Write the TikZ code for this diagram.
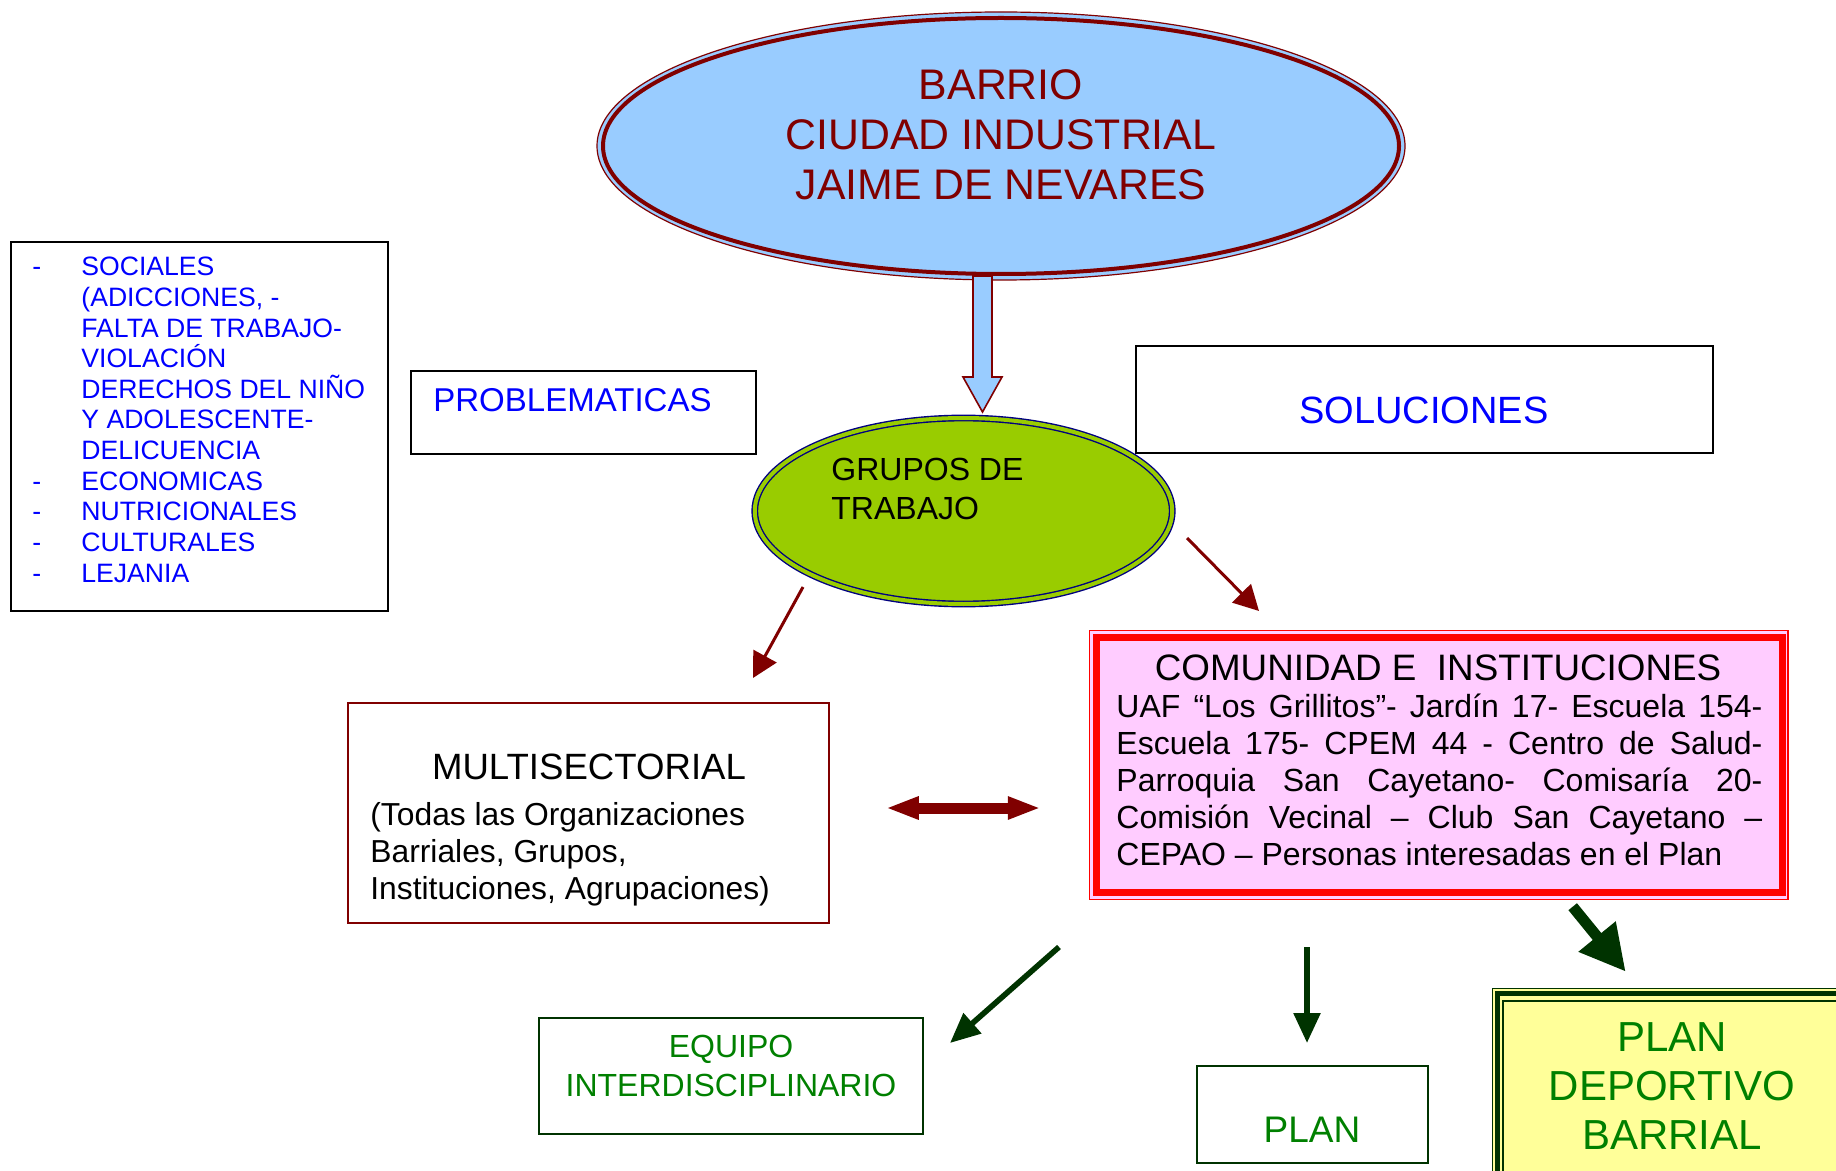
\documentclass[tikz,border=0pt]{standalone}
\usepackage{fontspec}
\setmainfont{Liberation Sans}
\usepackage{tikz}
\usetikzlibrary{shapes.geometric}
\usetikzlibrary{arrows.meta}
\usetikzlibrary{calc}

\definecolor{darkred}{HTML}{800000}
\definecolor{skyblue}{HTML}{99CCFF}
\definecolor{limegreen}{HTML}{99CC00}
\definecolor{navyblue}{HTML}{000080}
\definecolor{pinkfill}{HTML}{FFCCFF}
\definecolor{paleyellow}{HTML}{FFFF99}
\definecolor{darkgreen}{HTML}{003300}
\definecolor{textgreen}{HTML}{008000}
\definecolor{textblue}{HTML}{0000FF}

\tikzset{
  plainbox/.style={draw, rectangle, inner sep=0pt, line width=0.75pt},
  plaintext/.style={inner sep=0pt},
  listtext/.style={inner sep=0pt, anchor=base west, textblue, font=\fontsize{13.3}{15.3}\selectfont},
  redarrow/.style={darkred, line width=1.5pt, -{Triangle[length=12.5pt,width=13pt]}},
  greenarrow/.style={darkgreen, line width=2.8pt, -{Triangle[length=15pt,width=13pt]}},
}

\begin{document}
\begin{tikzpicture}[x=0.5pt, y=-0.5pt]
    \useasboundingbox (0,0) rectangle (1836,1171);
    \clip (0,0) rectangle (1836,1171);

%barrio
    \node[ellipse, draw=darkred, line width=0.6pt, fill=skyblue, minimum width=404pt, minimum height=134pt] (barrio) at (1001,146) {};
    \draw[darkred, line width=2pt] (barrio.center) ellipse [x radius=199pt, y radius=64pt];
    \node[plaintext, darkred, align=center, font=\fontsize{21.4}{25}\selectfont, anchor=base] (barriotxt) at (1001,200) {BARRIO\\CIUDAD INDUSTRIAL\\JAIME DE NEVARES};

    \draw[darkred, line width=0.8pt, fill=skyblue] (973,276) -- (992,276) -- (992,377) -- (1002,377) -- (982.5,412) -- (963,377) -- (973,377) -- cycle;

%grupos
    \node[ellipse, draw=navyblue, line width=0.7pt, double=limegreen, double distance=2pt, fill=limegreen, minimum width=208.75pt, minimum height=93pt, inner sep=0pt] (grupos) at (963.5,511) {};
    \node[plaintext, align=left, font=\fontsize{16}{19.5}\selectfont, anchor=base west] (grupostxt) at (831,519) {GRUPOS DE\\TRABAJO};

%problematicas
    \node[plainbox, minimum width=188.5pt, minimum height=184.5pt] (problist) at (199.5,426.5) {};
    \foreach \i/\txt in {0/SOCIALES, 1/{(ADICCIONES, -}, 2/FALTA DE TRABAJO-, 3/VIOLACIÓN, 4/DERECHOS DEL NIÑO, 5/Y ADOLESCENTE-, 6/DELICUENCIA, 7/ECONOMICAS, 8/NUTRICIONALES, 9/CULTURALES, 10/LEJANIA}
        \node[listtext] (item\i) at (81, 276+30.6*\i) {\txt};
    \foreach \i in {0,7,8,9,10}
        \node[listtext] (dash\i) at (32, 276+30.6*\i) {-};

    \node[plainbox, minimum width=172.5pt, minimum height=41.5pt] (probl) at (583.5,412.5) {};
    \node[plaintext, textblue, font=\fontsize{16.5}{19}\selectfont, anchor=base west] (probltxt) at (433,412) {PROBLEMATICAS};

    \node[plainbox, minimum width=288.5pt, minimum height=53.5pt] (soluc) at (1424.5,399.5) {};
    \node[plaintext, textblue, font=\fontsize{19}{22}\selectfont, anchor=base] (soluctxt) at (1424,423) {SOLUCIONES};

%comunidad
    \node[draw=red, line width=0.75pt, fill=pinkfill, minimum width=349.25pt, minimum height=134.5pt, inner sep=0pt] (comunidad) at (1438.75,765) {};
    \draw[red, line width=3.5pt] ([xshift=4pt,yshift=-3.75pt]comunidad.north west) rectangle ([xshift=-3.25pt,yshift=3.75pt]comunidad.south east);
    \node[plaintext, font=\fontsize{18.4}{21}\selectfont, anchor=base] (comutitle) at (1438,680) {COMUNIDAD E\ \ INSTITUCIONES};
    \node[plaintext, text width=323pt, align=justify, font=\fontsize{16}{18.5}\selectfont, anchor=base west] (comutxt) at (1116,717)
        {UAF “Los Grillitos”- Jardín 17- Escuela 154-\linebreak Escuela 175- CPEM 44 - Centro de Salud-\linebreak Parroquia San Cayetano- Comisaría 20-\linebreak Comisión Vecinal – Club San Cayetano –\linebreak CEPAO – Personas interesadas en el Plan};

%multisectorial
    \node[plainbox, draw=darkred, minimum width=240.5pt, minimum height=110pt] (multi) at (588.5,813) {};
    \node[plaintext, font=\fontsize{18.3}{21}\selectfont, anchor=base] (multititle) at (589,779) {MULTISECTORIAL};
    \node[plaintext, align=left, font=\fontsize{15.9}{18.5}\selectfont, anchor=base west] (multitxt) at (370,899)
        {(Todas las Organizaciones\\Barriales, Grupos,\\Instituciones, Agrupaciones)};

    \draw[darkred, line width=5.5pt, {Triangle[length=16.5pt,width=10.5pt]}-{Triangle[length=16.5pt,width=10.5pt]}, shorten <=28pt, shorten >=24pt]
        ($(multi.east)+(0,-5)$) -- ($(multi.east -| comunidad.west)+(0,-5)$);

    \coordinate (ga) at (803,587);
    \coordinate (gb) at (753,678);
    \coordinate (gc) at (1187,538);
    \coordinate (gd) at (1259,611);
    \draw[redarrow] (ga) -- (gb);
    \draw[redarrow] (gc) -- (gd);

%salidas
    \node[plainbox, draw=darkgreen, minimum width=192pt, minimum height=58pt] (equipo) at (731,1076) {};
    \node[plaintext, textgreen, align=center, font=\fontsize{16}{19.5}\selectfont, anchor=base] (equipotxt) at (731,1096) {EQUIPO\\INTERDISCIPLINARIO};

    \node[plainbox, draw=darkgreen, minimum width=115.5pt, minimum height=48.5pt] (plan) at (1312.5,1114.5) {};
    \node[plaintext, textgreen, font=\fontsize{18.5}{21}\selectfont, anchor=base] (plantxt) at (1312,1142) {PLAN};

    \node[draw=darkgreen, line width=0.75pt, fill=paleyellow, minimum width=179.75pt, minimum height=105.75pt, inner sep=0pt] (deport) at (1672.25,1094.25) {};
    \draw[darkgreen, line width=2.5pt] ([xshift=2.75pt,yshift=-3pt]deport.north west) rectangle ([xshift=-2.75pt,yshift=3pt]deport.south east);
    \draw[darkgreen, line width=1pt] ([xshift=5.75pt,yshift=-6.75pt]deport.north west) rectangle ([xshift=-5.75pt,yshift=6.75pt]deport.south east);
    \node[plaintext, textgreen, align=center, font=\fontsize{21}{24.5}\selectfont, anchor=base] (deporttxt) at (1672,1149) {PLAN\\DEPORTIVO\\BARRIAL};

    \coordinate (ea) at (1059,947);
    \coordinate (eb) at (950,1043);
    \coordinate (pa) at (1307,947);
    \coordinate (pb) at (1307,1043);
    \coordinate (da) at (1572.7,906.7);
    \coordinate (db) at (1625.7,971.7);
    \draw[greenarrow] (ea) -- (eb);
    \draw[greenarrow] (pa) -- (pb);
    \draw[darkgreen, line width=5.5pt, -{Triangle[length=22.7pt,width=22.5pt]}] (da) -- (db);

\end{tikzpicture}
\end{document}
